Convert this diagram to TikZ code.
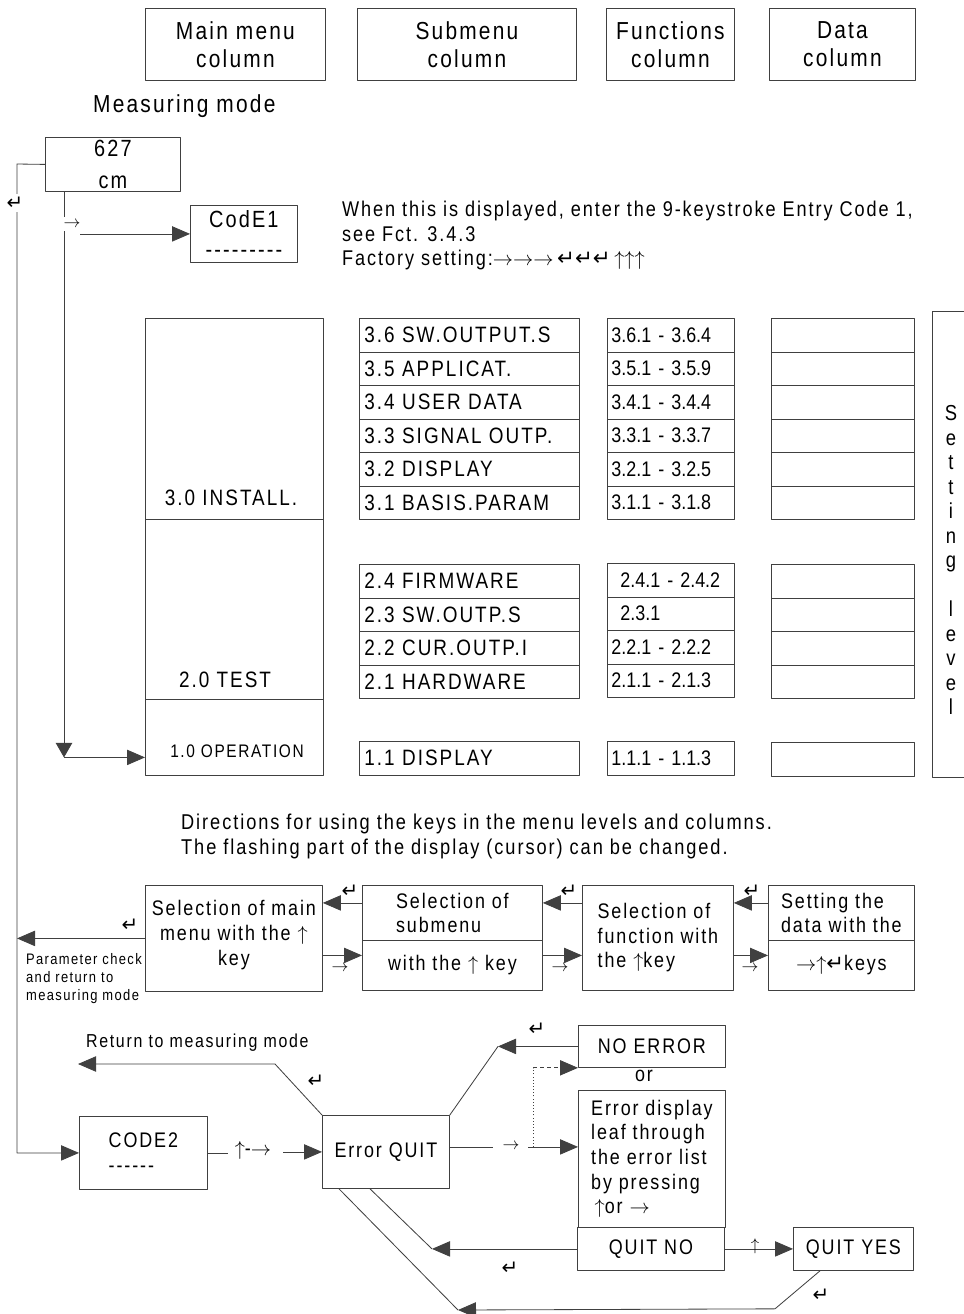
\documentclass[tikz,border=0pt]{standalone}
\usepackage{fontspec}
\setmainfont{Liberation Sans}[FakeStretch=0.85,LetterSpace=9]
\newfontfamily\digfont{Liberation Sans}[FakeStretch=0.85]
\newfontfamily\symfont{DejaVu Sans}
\usetikzlibrary{arrows.meta,positioning}
\newcommand\ka{$\rightarrow$}
\newcommand\ku{$\uparrow$}
\newcommand\ke{{\symfont ↵}}
\tikzset{
  ln/.style={draw=black!75,line width=0.7pt},
  arr/.style={ln,-{Triangle[length=5.4mm,width=4.6mm]}},
  box/.style={draw=black!75,line width=0.7pt,anchor=north west,align=center,inner sep=0pt},
  wh/.style 2 args={minimum width=#1*0.3mm,minimum height=#2*0.3mm},
  head/.style={box,font=\fontsize{21}{24}\selectfont},
  srow/.style={box,wh={220}{33.5},text width=63mm,align=left,inner xsep=1.2mm,font=\fontsize{19}{21}\selectfont},
  frow/.style={box,wh={127}{33.5},text width=35.7mm,align=left,inner xsep=1.2mm,font=\digfont\fontsize{18}{21}\selectfont},
  drow/.style={box,wh={143}{33.5}},
  keysym/.style={font=\fontsize{14}{14}\selectfont,inner sep=0pt},
  entsym/.style={font=\fontsize{17}{17}\selectfont,inner sep=0pt},
}
\begin{document}
\begin{tikzpicture}[x=0.3mm,y=-0.3mm,line join=round,font=\fontsize{18}{21}\selectfont]
\useasboundingbox[fill=white] (0,0) rectangle (964,1314);
% column headings
\node[head,wh={180}{72}] (hmain) at (145,8) {Main menu\\column};
\node[head,wh={219}{72}] (hsub) at (357,8) {Submenu\\column};
\node[head,wh={128}{72}] (hfun) at (606,8) {Functions\\column};
\node[head,wh={146}{72}] (hdat) at (769,8) {Data\\column};
\node[anchor=west,font=\fontsize{21}{24}\selectfont] (mmode) at (89,106) {Measuring mode};
% measuring value and entry code
\node[box,wh={135}{54},font=\fontsize{20}{27}\selectfont] (meas) at (45,137) {627\\cm};
\node[box,wh={107}{57},font=\fontsize{20}{26}\selectfont] (code1) at (190,205) {CodE1\\-{}-{}-{}-{}-{}-{}-{}-{}-};
\node[anchor=north west,align=left,font=\fontsize{18.2}{21}\selectfont] (info) at (338,197)
  {When this is displayed, enter the 9-keystroke Entry Code 1,\\see Fct. 3.4.3\\Factory setting:\ka\ka\ka\,\ke\ke\ke\,\ku\ku\ku};
% main menu column
\node[box,wh={178}{201}] (inst) at (145,318) {};
\node[box,wh={178}{180}] (test) at (145,519) {};
\node[box,wh={178}{76}] (oper) at (145,699) {};
\node[font=\fontsize{19}{21}\selectfont] (inst-t) at (231,498) {3.0 INSTALL.};
\node[font=\fontsize{19}{21}\selectfont] (test-t) at (225,680) {2.0 TEST};
\node[font=\fontsize{15.5}{18}\selectfont] (oper-t) at (237,751) {1.0 OPERATION};
% submenus, functions, data
\foreach \t [count=\i from 0] in {3.6 SW.OUTPUT.S,3.5 APPLICAT.,3.4 USER DATA,3.3 SIGNAL OUTP.,3.2 DISPLAY,3.1 BASIS.PARAM}
  \node[srow] (s3-\i) at (359,318+33.5*\i) {\t};
\foreach \t [count=\i from 0] in {3.6.1 - 3.6.4,3.5.1 - 3.5.9,3.4.1 - 3.4.4,3.3.1 - 3.3.7,3.2.1 - 3.2.5,3.1.1 - 3.1.8}
  \node[frow] (f3-\i) at (607,318+33.5*\i) {\t};
\foreach \i in {0,...,5}
  \node[drow] (d3-\i) at (771,318+33.5*\i) {};
\foreach \t [count=\i from 0] in {2.4 FIRMWARE,2.3 SW.OUTP.S,2.2 CUR.OUTP.I,2.1 HARDWARE}
  \node[srow] (s2-\i) at (359,564+33.5*\i) {\t};
\foreach \t [count=\i from 0] in {\hspace*{2.7mm}2.4.1 - 2.4.2,\hspace*{2.7mm}2.3.1,2.2.1 - 2.2.2,2.1.1 - 2.1.3}
  \node[frow] (f2-\i) at (607,563+33.5*\i) {\t};
\foreach \i in {0,...,3}
  \node[drow] (d2-\i) at (771,564+33.5*\i) {};
\node[srow] (s1-0) at (359,741) {1.1 DISPLAY};
\node[frow] (f1-0) at (607,741) {1.1.1 - 1.1.3};
\node[drow] (d1-0) at (771,742) {};
% setting level
\node[box,wh={80}{466}] (setlv) at (932,311) {};
\node[align=center,font=\fontsize{18.5}{20.9}\selectfont] (setlv-t) at (951,560)
  {S\\e\\t\\t\\i\\n\\g\\[20.9pt]l\\e\\v\\e\\l};
% entry paths
\coordinate (lft) at (17,164);
\coordinate (dn) at (64,191);
\coordinate (opin) at ([yshift=-6mm]oper.west);
\node[box,wh={128}{73},align=left] (code2) at (79,1116) {CODE2\\-{}-{}-{}-{}-{}-};
\draw[arr] (meas.west) -- (lft) |- (code2.west);
\node[entsym,fill=white,inner ysep=2pt] (ent0) at (15,203) {\ke};
\draw[ln,-{Triangle[length=4.4mm,width=5mm]}] (dn) -- (dn |- opin);
\draw[arr] (dn |- opin) -- (opin);
\node[keysym,fill=white,inner ysep=3pt] (ar0) at (72,224) {\ka};
\draw[arr] (code1.west -| 80,0) -- (code1.west);
% key directions
\node[anchor=north west,align=left,font=\fontsize{18.3}{21.3}\selectfont] (dirs) at (177,810)
  {Directions for using the keys in the menu levels and columns.\\The flashing part of the display (cursor) can be changed.};
\node[box,wh={177}{106}] (selA) at (145,885) {Selection of main\\menu with the \ku\\key\\[-1.2ex]};
\node[box,wh={180}{55},align=left] (selBt) at (362,885) {Selection of\\submenu};
\node[box,wh={180}{50}] (selBb) at (362,940) {with the \ku\ key};
\node[box,wh={151}{105},align=left] (selC) at (582,885) {Selection of\\function with\\the \ku key};
\node[box,wh={146}{55},align=left] (selDt) at (768,885) {Setting the\\data with the};
\node[box,wh={146}{50}] (selDb) at (768,940) {\ka\ku\ke keys};
\draw[arr] ([yshift=3mm]selBt.west) -- ([yshift=3mm]selBt.west -| selA.east);
\draw[arr] ([yshift=3mm]selBb.west -| selA.east) -- ([yshift=3mm]selBb.west);
\draw[arr] ([yshift=3mm]selBt.east -| selC.west) -- ([yshift=3mm]selBt.east);
\draw[arr] ([yshift=3mm]selBb.east) -- ([yshift=3mm]selBb.east -| selC.west);
\draw[arr] ([yshift=3mm]selDt.west) -- ([yshift=3mm]selDt.west -| selC.east);
\draw[arr] ([yshift=3mm]selDb.west -| selC.east) -- ([yshift=3mm]selDb.west);
\foreach \x in {350,569,752} \node[entsym] at (\x,891) {\ke};
\foreach \x in {340,560,750} \node[keysym] at (\x,968) {\ka};
\draw[arr] (selA.west) -- (selA.west -| lft);
\node[entsym] (ent1) at (130,925) {\ke};
\node[anchor=north west,align=left,font=\fontsize{13}{15.3}\selectfont] (pchk) at (22,949)
  {Parameter check\\and return to\\measuring mode};
% quit sequence
\node[box,wh={127}{73}] (errq) at (322,1115) {Error QUIT};
\node[box,wh={147}{42}] (noerr) at (578,1025) {NO ERROR};
\node (or) at (644,1076) {or};
\node[box,wh={147}{137},align=left] (errd) at (578,1090) {Error display\\leaf through\\the error list\\by pressing\\\,\ku or \ka};
\node[box,wh={147}{43}] (quitno) at (577,1227) {QUIT NO};
\node[box,wh={120}{43}] (quityes) at (793,1227) {QUIT YES};
\draw[ln] (code2.east) -- ++(20,0);
\node (c2k) at (253,1150) {\ku-\ka};
\draw[arr] (errq.west) ++(-39,0) -- (errq.west);
\coordinate (ret) at (78,1064);
\draw[arr] (errq.north west) -- ++(-47,-51) -- (ret);
\node[anchor=west,font=\fontsize{16}{18}\selectfont] (rettxt) at (82,1043) {Return to measuring mode};
\node[entsym] (ent-r) at (316,1081) {\ke};
\coordinate (ne) at (noerr.west -| 498,0);
\draw[arr] (noerr.west) -- (ne);
\draw[ln] (ne) -- (errq.north east);
\node[entsym] (ent-n) at (537,1029) {\ke};
\coordinate (fork) at ([yshift=1.5mm]errq.east -| 533,0);
\draw[ln] ([yshift=1.5mm]errq.east) -- ++(43,0);
\node[keysym] (ar-e) at (511,1146) {\ka};
\draw[arr] (fork) ++(-5,0) -- (fork -| errd.west);
\draw[ln,dotted] (fork) -- (fork |- noerr.south);
\draw[arr,dashed] (fork |- noerr.south) -- (noerr.south west);
\coordinate (qn) at (quitno.west -| 432,0);
\draw[arr] (quitno.west) -- (qn);
\draw[ln] (qn) -- ([xshift=14.4mm]errq.south west);
\node[entsym] (ent-q) at (510,1268) {\ke};
\draw[arr] (quitno.east) -- (quityes.west);
\node[keysym] (up-q) at (755,1246) {\ku};
\coordinate (qy) at (458,1310);
\draw[arr] ([xshift=8.1mm]quityes.south west) -- ++(-45,38) -- (qy);
\draw[ln] (qy) -- ([xshift=5.1mm]errq.south west);
\node[entsym] (ent-y) at (821,1295) {\ke};
\end{tikzpicture}
\end{document}
